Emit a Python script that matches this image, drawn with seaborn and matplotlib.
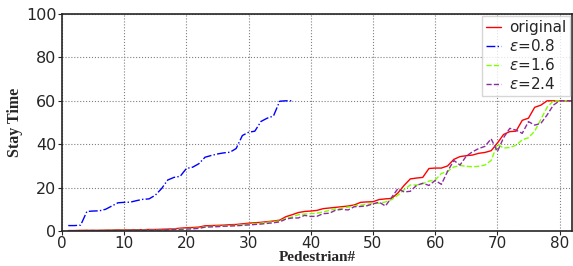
import numpy as np
import pandas as pd
import matplotlib
matplotlib.use("Agg")
import matplotlib.pyplot as plt
import seaborn as sns

# datos
ped_eps08 = list(range(1, 38))
eps08 = [2.5, 2.5, 2.7, 9.0, 9.2, 9.3, 10.0, 11.5, 13.0, 13.2,
         13.3, 14.0, 14.6, 14.8, 16.5, 19.5, 23.5, 24.7, 25.2, 28.8,
         29.4, 31.0, 34.0, 34.8, 35.5, 36.0, 36.3, 38.0, 44.0, 45.5,
         46.0, 50.5, 52.0, 53.0, 59.8, 60.0, 60.0]

ped = list(range(1, 83))
original = [0.2, 0.2, 0.3, 0.3, 0.3, 0.3, 0.4, 0.4, 0.5, 0.5,
            0.5, 0.6, 0.6, 0.7, 0.7, 0.8, 0.9, 1.0, 1.3, 1.5,
            1.6, 1.8, 2.4, 2.5, 2.6, 2.7, 2.9, 3.0, 3.3, 3.6,
            3.8, 4.0, 4.3, 4.6, 5.0, 6.6, 7.5, 8.5, 9.0, 9.2,
            9.5, 10.3, 10.6, 10.9, 11.2, 11.5, 12.0, 13.2, 13.4, 13.5,
            14.5, 14.8, 15.0, 17.5, 21.0, 24.0, 24.4, 24.7, 28.8, 29.0,
            29.0, 30.0, 33.0, 34.3, 34.7, 35.0, 35.8, 36.2, 37.0, 40.5,
            44.5, 45.8, 46.0, 51.0, 52.0, 57.0, 58.0, 60, 60, 60, 60, 60]
eps16 = [0.1, 0.1, 0.2, 0.2, 0.2, 0.2, 0.3, 0.3, 0.3, 0.4,
         0.4, 0.4, 0.5, 0.5, 0.6, 0.6, 0.7, 0.8, 1.0, 1.1,
         1.2, 1.3, 2.0, 2.1, 2.2, 2.3, 2.5, 2.6, 2.9, 3.1,
         3.4, 3.6, 4.0, 4.3, 4.6, 5.8, 6.5, 7.5, 7.8, 8.0,
         8.2, 8.8, 9.5, 10.2, 10.6, 11.0, 11.6, 11.9, 12.3, 12.6,
         12.8, 13.4, 14.5, 16.5, 19.0, 21.2, 21.2, 21.8, 23.0, 23.5,
         26.5, 27.5, 29.5, 30.2, 29.8, 29.6, 29.8, 30.4, 32.5, 40.0,
         38.2, 38.5, 39.5, 42.0, 43.0, 46.0, 51.5, 57.0, 60, 60, 60, 60]
eps24 = [0.1, 0.1, 0.1, 0.2, 0.2, 0.2, 0.2, 0.3, 0.3, 0.3,
         0.4, 0.4, 0.4, 0.5, 0.5, 0.5, 0.6, 0.7, 0.8, 0.9,
         1.0, 1.2, 1.8, 1.9, 2.0, 2.2, 2.3, 2.4, 2.6, 2.8,
         3.0, 3.2, 3.5, 3.8, 4.2, 5.5, 6.0, 6.0, 7.2, 6.7,
         6.8, 8.0, 8.2, 9.6, 10.0, 9.7, 11.2, 11.3, 11.6, 12.5,
         13.3, 11.5, 15.5, 19.5, 18.0, 18.3, 21.0, 22.0, 21.0, 23.3,
         21.5, 27.5, 32.5, 30.4, 34.5, 36.5, 38.0, 39.0, 42.5, 36.6,
         43.0, 47.3, 46.5, 45.0, 50.4, 48.8, 49.6, 53.5, 58.0, 60, 60, 60]

df = pd.DataFrame({"ped": ped, "original": original, "eps16": eps16, "eps24": eps24})
df08 = pd.DataFrame({"ped": ped_eps08, "eps08": eps08})

sns.set_style("ticks")

fig, ax = plt.subplots(figsize=(5.73, 2.66), dpi=100)
fig.subplots_adjust(left=62/573, right=572/573, top=1-14/266, bottom=1-231/266)

sns.lineplot(data=df, x="ped", y="original", color="red", lw=1, label="original", ax=ax)
sns.lineplot(data=df08, x="ped", y="eps08", color="blue", lw=1, label=r"$\varepsilon$=0.8", ax=ax)
sns.lineplot(data=df, x="ped", y="eps16", color="#7fff00", lw=1, label=r"$\varepsilon$=1.6", ax=ax)
sns.lineplot(data=df, x="ped", y="eps24", color="#8b2d9f", lw=1, label=r"$\varepsilon$=2.4", ax=ax)
ax.lines[1].set_linestyle("-.")
ax.lines[2].set_linestyle("--")
ax.lines[3].set_linestyle("--")

ax.set_xlim(0, 82)
ax.set_ylim(0, 100)
ax.set_xticks(range(0, 81, 10))
ax.set_yticks(range(0, 101, 20))
ax.tick_params(labelsize=11.5, length=3, pad=1)
ax.tick_params(axis="x", labelsize=11, pad=0.5)
ax.grid(True, linestyle=":", color="gray", lw=0.8)
for s in ax.spines.values():
    s.set_linewidth(1.2)

ax.set_xlabel("Pedestrian#", family="Liberation Serif", weight="bold", fontsize=11, labelpad=0)
ax.set_ylabel("Stay Time", family="Liberation Serif", weight="bold", fontsize=11.5, labelpad=2)

leg = ax.legend(loc="upper right", fontsize=11, handlelength=1.0, handletextpad=0.5,
                labelspacing=0.2, borderpad=0.25, borderaxespad=0.15, fancybox=False)
for h in leg.get_lines():
    h.set_linewidth(1)
leg.get_lines()[1].set_linestyle("-.")
leg.get_lines()[2].set_linestyle("--")
leg.get_lines()[3].set_linestyle("--")

fig.savefig("out.png", dpi=100)
